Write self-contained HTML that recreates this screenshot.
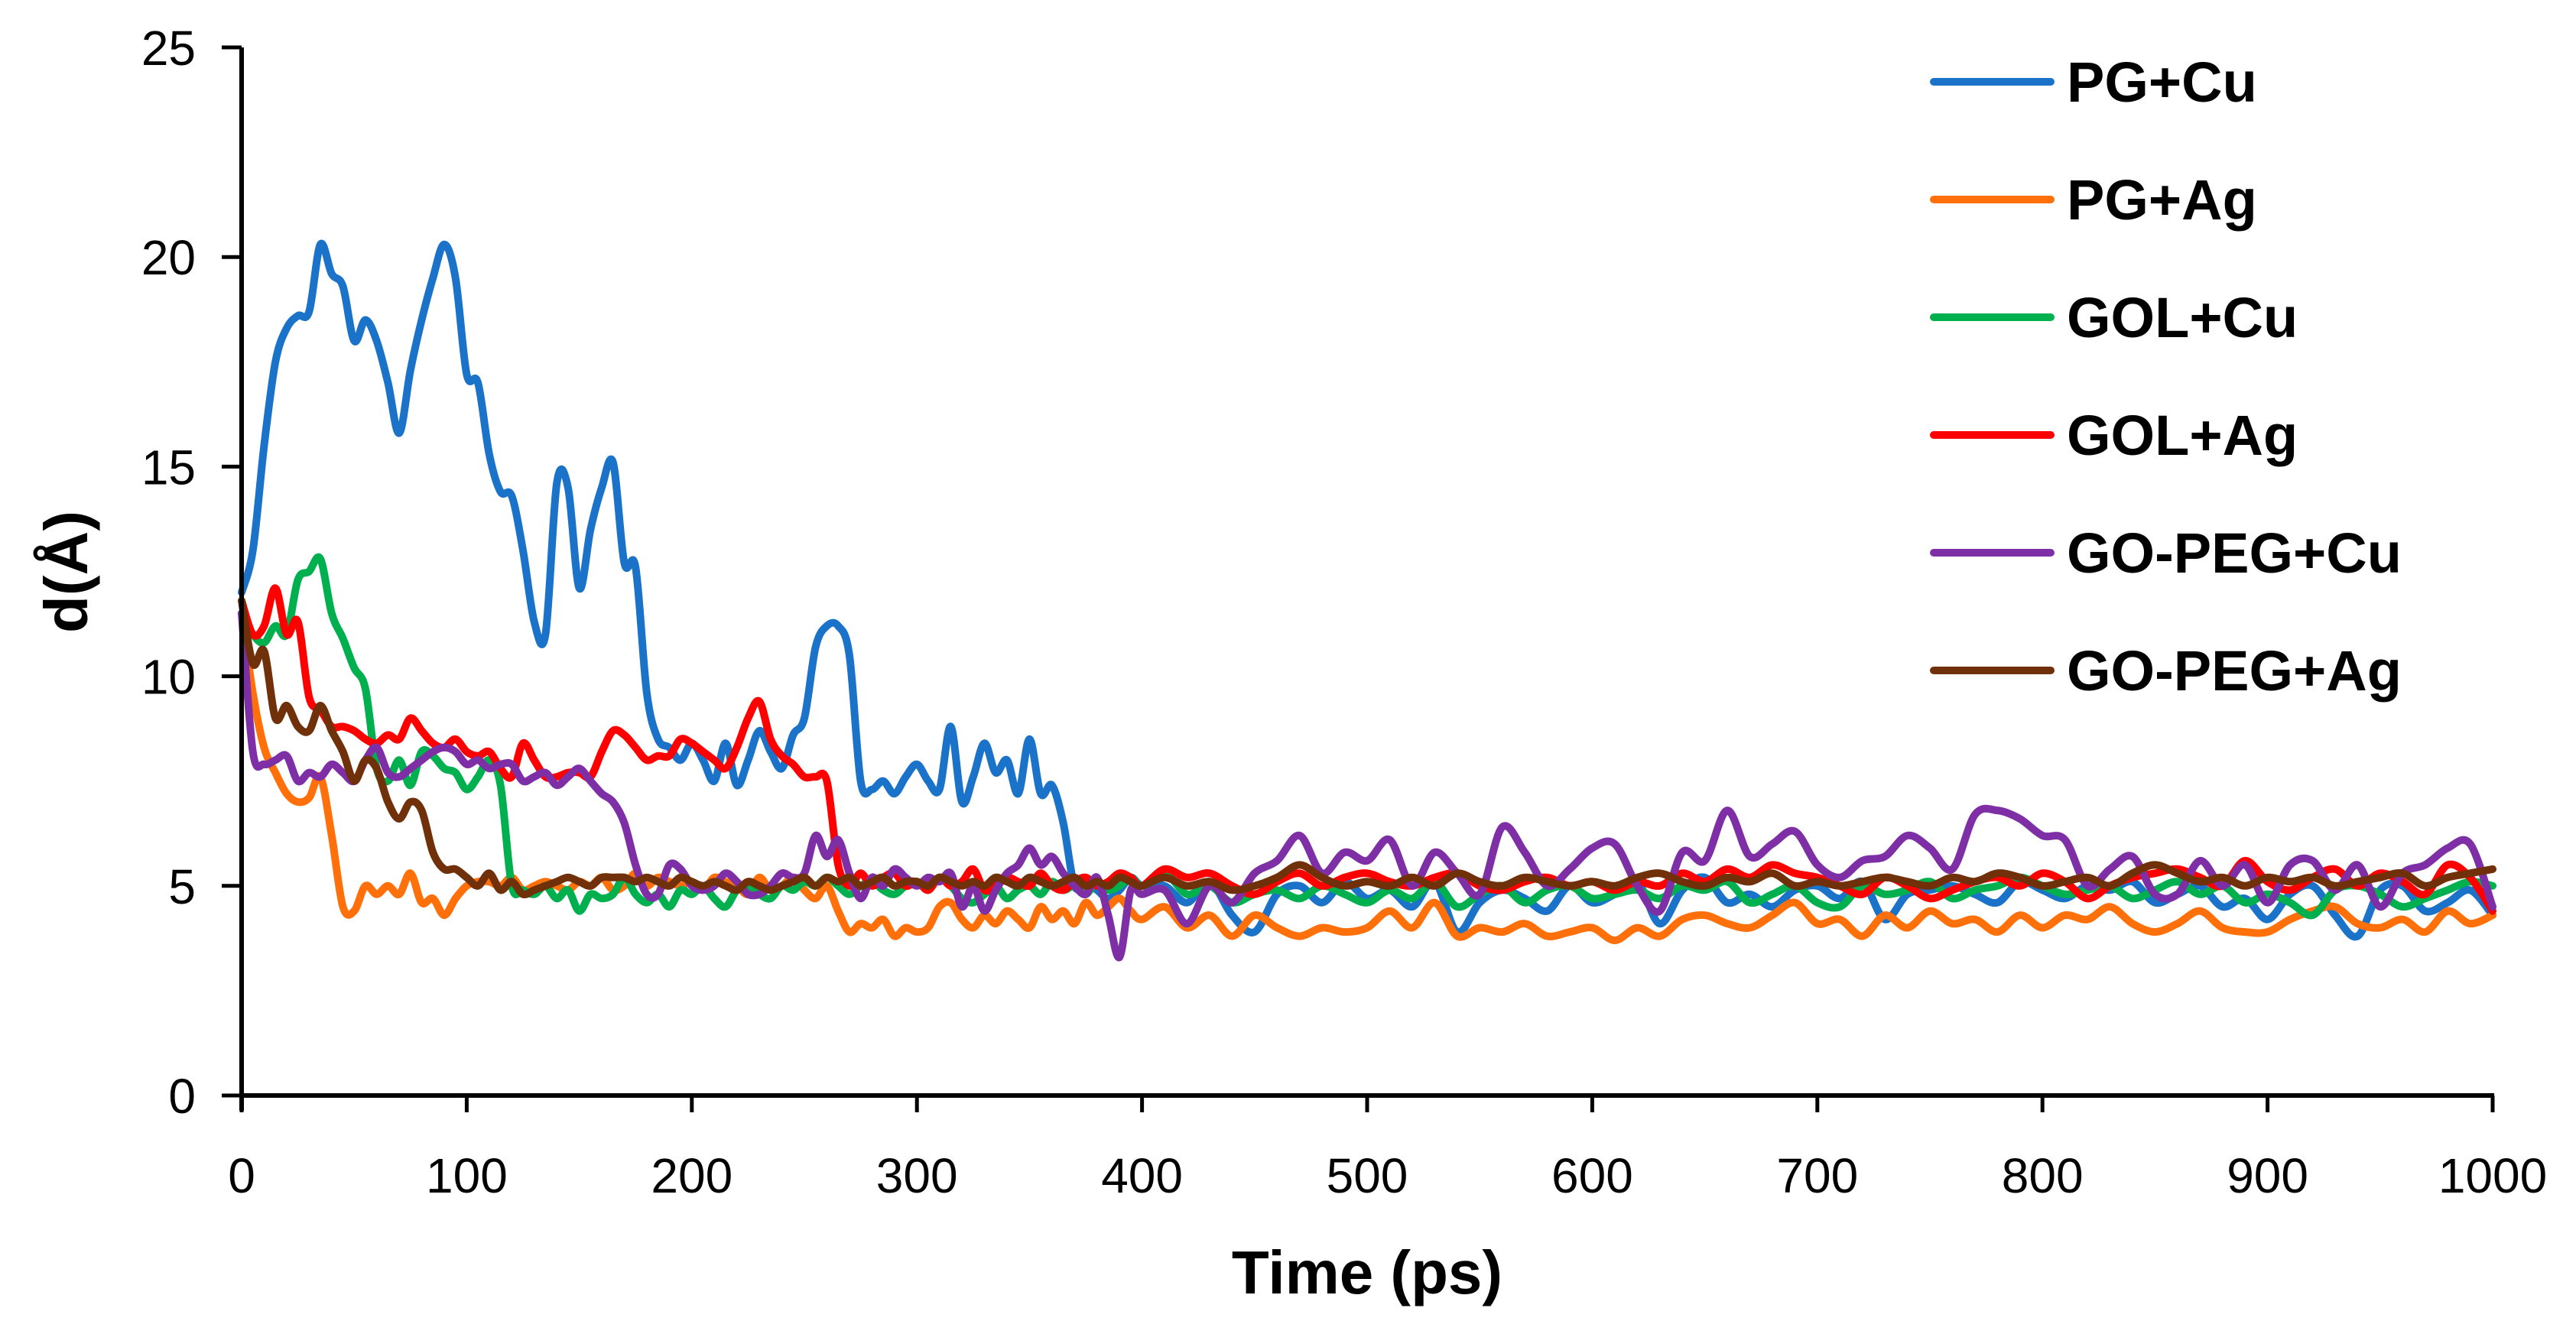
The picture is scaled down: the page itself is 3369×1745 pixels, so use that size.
<!DOCTYPE html>
<html><head><meta charset="utf-8"><style>
html,body{margin:0;padding:0;background:#fff;}
svg{display:block;}
</style></head><body>
<svg id="chart" width="3369" height="1745" viewBox="0 0 3369 1745" xmlns="http://www.w3.org/2000/svg" font-family="'Liberation Sans', sans-serif">
<rect width="3369" height="1745" fill="#fff"/>
<g id="series"></g>
<g id="axes"></g>
<g id="legend"></g>
<text x="1788" y="1692" font-size="80" font-weight="bold" text-anchor="middle">Time (ps)</text>
<text transform="translate(114,748) rotate(-90)" font-size="80" font-weight="bold" text-anchor="middle">d(Å)</text>
</svg>
<script>
const seriesNames = ["PG+Cu","PG+Ag","GOL+Cu","GOL+Ag","GO-PEG+Cu","GO-PEG+Ag"];
const seriesColors = ["#1a73c8","#ff700a","#00b04f","#ff0000","#7f2fa5","#70300a"];
const yTicks = [0,5,10,15,20,25];
const xTicks = [0,100,200,300,400,500,600,700,800,900,1000];
const pgCu = [12,13,15.5,17.5,18.3,18.6,18.7,20.3,19.6,19.3,18,18.5,18,17,15.8,17.3,18.5,19.5,20.3,19.5,17.2,17,15.3,14.4,14.3,13,11.3,11,14.6,14.5,12.1,13.5,14.5,15.1,12.7,12.6,9.6,8.5,8.3,8.0,8.4,8.0,7.5,8.4,7.4,8.0,8.7,8.2,7.8,8.6,9.0,10.7,11.2,11.2,10.5,7.5,7.3,7.5,7.2,7.6,7.9,7.5,7.3,8.8,7.0,7.6,8.4,7.7,8.0,7.2,8.5,7.2,7.4,6.5,5.0,5.1,4.9,4.7,4.9,5.2,5.0,
5.0,4.6,5.1,4.3,3.9,4.8,5.0,4.6,5.1,4.7,
4.9,4.5,5.1,3.9,4.6,4.9,4.7,4.4,5.0,4.6,
4.8,5.1,4.1,4.9,5.2,4.6,4.8,4.5,4.9,5.0,
4.7,5.1,4.2,4.8,4.9,5.0,4.8,4.6,5.1,4.9,
4.7,5.0,4.9,5.1,4.6,4.8,5.0,4.5,4.7,4.2,
4.8,5.0,4.3,3.8,4.9,5.0,4.4,4.6,4.9,4.3];
const pgAg = [11.5,9.6,8.3,7.7,7.2,7.0,7.1,7.6,6.2,4.5,4.4,5.0,4.8,5.0,4.8,5.3,4.6,4.7,4.3,4.7,5.0,5.1,5.1,5.0,5.2,4.9,5.0,5.1,5.0,4.9,5.1,5.0,5.2,4.9,5.0,5.3,5.0,5.2,5.1,5.0,5.1,4.9,5.2,5.1,5.0,4.8,5.2,4.9,5.0,5.2,4.9,4.7,5.0,4.4,3.9,4.1,4.0,4.2,3.8,4.0,3.9,4.0,4.5,4.6,4.2,4.0,4.3,4.1,4.4,4.2,4.0,4.5,4.2,4.4,4.1,4.6,4.3,4.5,4.7,4.4,4.2,
4.5,4.0,4.3,3.8,4.3,4.0,3.8,4.0,3.9,4.0,
4.4,4.0,4.6,3.8,4.0,3.9,4.1,3.8,3.9,4.0,
3.7,4.0,3.8,4.2,4.3,4.1,4.0,4.3,4.6,4.1,
4.2,3.8,4.3,4.0,4.4,4.1,4.2,3.9,4.3,4.0,
4.3,4.2,4.5,4.1,3.9,4.1,4.4,4.0,3.9,3.9,
4.2,4.4,4.5,4.1,4.0,4.2,3.9,4.4,4.1,4.3];
const golCu = [11.5,11.0,10.8,11.2,11.0,12.3,12.5,12.8,11.5,10.9,10.2,9.7,7.8,7.5,8.0,7.4,8.2,8.1,7.8,7.7,7.3,7.6,8.0,7.4,5.0,4.9,4.8,5.0,4.7,4.9,4.4,4.8,4.7,4.8,5.2,4.8,4.6,4.8,4.5,4.9,4.8,5.0,4.7,4.5,4.9,5.0,4.8,4.7,5.0,4.9,5.1,5.0,5.2,5.0,4.8,5.0,5.1,4.9,4.8,5.0,5.1,4.9,5.2,5.0,4.7,4.6,4.8,5.0,4.7,4.9,5.0,4.8,5.1,4.9,5.0,4.8,5.1,4.9,5.0,5.2,5.0,
5.3,4.8,5.0,4.6,4.8,4.9,4.7,5.0,4.8,4.6,
4.9,4.7,5.1,4.5,4.8,5.0,4.6,4.9,5.0,4.7,
4.8,4.9,4.7,5.0,4.9,5.1,4.6,4.8,5.0,4.6,
4.5,5.0,4.8,4.9,5.1,4.7,4.9,5.0,5.2,5.0,
4.8,4.9,5.0,4.7,4.9,5.1,4.8,5.0,4.6,4.8,
4.6,4.3,4.9,5.0,4.8,4.5,4.7,4.9,5.1,5.0];
const golAg = [11.8,11.0,11.2,12.1,11.0,11.3,9.5,9.2,8.8,8.8,8.7,8.5,8.4,8.6,8.5,9.0,8.7,8.4,8.3,8.5,8.2,8.1,8.2,7.8,7.6,8.4,8.0,7.6,7.6,7.7,7.7,7.6,8.2,8.7,8.6,8.3,8.0,8.1,8.1,8.5,8.4,8.2,8.0,7.8,8.3,9.0,9.4,8.5,8.1,7.9,7.6,7.6,7.5,5.5,5.0,5.3,5.0,5.2,5.3,5.0,5.1,4.9,5.2,5.0,5.1,5.4,4.9,5.0,5.2,5.1,5.0,5.3,5.0,4.9,5.1,5.2,5.0,5.1,5.3,5.2,5.0,
5.4,5.2,5.3,5.0,4.8,5.1,5.3,5.0,5.2,5.3,
5.1,5.0,5.2,5.3,5.0,4.9,5.1,5.2,5.0,5.1,
4.9,5.1,5.0,5.3,5.1,5.4,5.2,5.5,5.3,5.2,
5.0,4.8,5.2,5.0,4.7,4.9,5.1,5.2,5.0,5.3,
5.1,4.7,5.0,5.2,5.3,5.4,5.2,5.0,5.6,5.1,
4.9,5.2,5.4,5.0,5.3,5.1,4.8,5.5,5.2,4.4];
const pegCu = [11.5,8.2,7.9,8.0,8.1,7.5,7.7,7.6,7.9,7.7,7.5,8.0,8.3,7.7,7.6,7.8,8.0,8.2,8.3,8.2,7.9,8.0,7.8,7.9,7.9,7.5,7.6,7.7,7.4,7.6,7.8,7.5,7.2,7.0,6.5,5.5,4.8,4.8,5.5,5.4,5.0,4.9,5.0,5.3,5.1,4.8,4.8,5.0,5.3,5.2,5.3,6.2,5.7,6.1,5.3,4.7,5.2,5.0,5.4,5.2,5.0,5.2,5.1,5.3,4.5,5.0,4.4,4.9,5.3,5.5,5.9,5.5,5.7,5.3,5.0,4.8,5.2,4.3,3.3,4.9,4.8,
4.9,4.1,5.0,4.6,5.3,5.6,6.2,5.3,5.8,5.6,
6.1,5.0,5.8,5.3,4.8,6.4,5.8,5.0,5.4,5.9,
6.0,5.0,4.4,5.8,5.6,6.8,5.7,6.0,6.3,5.5,
5.2,5.6,5.7,6.2,5.9,5.4,6.7,6.8,6.6,6.2,
6.1,5.0,5.4,5.7,4.8,4.8,5.6,5.0,5.5,4.6,
5.5,5.6,4.9,5.5,4.5,5.3,5.5,5.9,6.0,4.5];
const pegAg = [11.8,10.3,10.6,9.0,9.3,8.8,8.7,9.3,8.7,8.2,7.5,8.0,7.8,7.0,6.6,7.0,6.8,5.8,5.4,5.4,5.2,5.0,5.3,4.9,5.1,4.8,4.9,5.0,5.1,5.2,5.1,5.0,5.2,5.2,5.2,5.1,5.2,5.1,5.0,5.2,5.1,5.0,5.1,5.0,4.9,5.1,5.0,4.9,5.0,5.1,5.2,5.0,5.2,5.1,5.2,5.0,5.1,5.2,5.0,5.1,5.1,5.0,5.2,5.1,5.0,5.1,5.0,5.2,5.1,5.0,5.2,5.1,5.0,5.1,5.2,5.0,5.1,5.0,5.2,5.1,5.0,
5.2,5.0,5.1,4.9,5.0,5.2,5.5,5.2,5.0,5.1,
5.0,5.2,5.0,5.3,5.1,5.0,5.2,5.1,5.0,5.1,
5.0,5.2,5.3,5.1,5.0,5.2,5.1,5.3,5.0,5.1,
5.0,5.1,5.2,5.1,5.0,5.2,5.1,5.3,5.2,5.0,
5.1,5.2,5.0,5.3,5.5,5.3,5.1,5.2,5.0,5.2,
5.1,5.2,5.0,5.1,5.2,5.3,5.0,5.2,5.3,5.4];
const seriesData = [pgCu,pgAg,golCu,golAg,pegCu,pegAg];

const NS = "http://www.w3.org/2000/svg";
const X0 = 316, X1 = 3260, Y0 = 1433, Y1 = 62;
const xScale = t => X0 + (t / 1000) * (X1 - X0);
const yScale = v => Y0 - (v / 25) * (Y0 - Y1);
const times = [];
for (let t = 0; t <= 400; t += 5) times.push(t);
for (let t = 410; t <= 1000; t += 10) times.push(t);

function mk(tag, attrs, parent) {
  const e = document.createElementNS(NS, tag);
  for (const k in attrs) e.setAttribute(k, attrs[k]);
  parent.appendChild(e);
  return e;
}
function smoothPath(pts) {
  let d = "M" + pts[0][0].toFixed(1) + "," + pts[0][1].toFixed(1);
  for (let i = 0; i < pts.length - 1; i++) {
    const p0 = pts[Math.max(0, i - 1)], p1 = pts[i], p2 = pts[i + 1], p3 = pts[Math.min(pts.length - 1, i + 2)];
    const c1x = p1[0] + (p2[0] - p0[0]) / 6, c1y = p1[1] + (p2[1] - p0[1]) / 6;
    const c2x = p2[0] - (p3[0] - p1[0]) / 6, c2y = p2[1] - (p3[1] - p1[1]) / 6;
    d += " C" + c1x.toFixed(1) + "," + c1y.toFixed(1) + " " + c2x.toFixed(1) + "," + c2y.toFixed(1) + " " + p2[0].toFixed(1) + "," + p2[1].toFixed(1);
  }
  return d;
}

const gS = document.getElementById("series");
seriesData.forEach((arr, si) => {
  const n = Math.min(arr.length, times.length);
  const pts = [];
  for (let i = 0; i < n; i++) pts.push([xScale(times[i]), yScale(arr[i])]);
  const p = mk("path", {d: smoothPath(pts), fill: "none", stroke: seriesColors[si], "stroke-width": 10, "stroke-linejoin": "round", "stroke-linecap": "round"}, gS);
  
  
});

const gA = document.getElementById("axes");
const yAxis = mk("line", {x1: X0, y1: Y1, x2: X0, y2: Y0 + 20, stroke: "#000", "stroke-width": 6}, gA);


const xAxis = mk("line", {x1: X0 - 2, y1: Y0, x2: X1 + 2, y2: Y0, stroke: "#000", "stroke-width": 6}, gA);


yTicks.forEach(v => {
  const y = yScale(v);
  const tk = mk("line", {x1: X0 - 26, y1: y, x2: X0, y2: y, stroke: "#000", "stroke-width": 5}, gA);
  
  
  const tx = mk("text", {x: 256, y: y + 23, "font-size": 64, "text-anchor": "end"}, gA);
  tx.textContent = v;
  
  
});
xTicks.forEach(v => {
  const x = xScale(v);
  const tk = mk("line", {x1: x, y1: Y0, x2: x, y2: Y0 + 22, stroke: "#000", "stroke-width": 5}, gA);
  
  
  const tx = mk("text", {x: x, y: 1560, "font-size": 64, "text-anchor": "middle"}, gA);
  tx.textContent = v;
  
  
});

const gL = document.getElementById("legend");
seriesNames.forEach((name, i) => {
  const y = 107 + i * 154;
  const g = mk("g", {}, gL);
  
  
  mk("line", {x1: 2529, y1: y, x2: 2682, y2: y, stroke: seriesColors[i], "stroke-width": 10, "stroke-linecap": "round"}, g);
  const t = mk("text", {x: 2703, y: y + 26, "font-size": 74, "font-weight": "bold"}, g);
  t.textContent = name;
});
</script>
</body></html>
